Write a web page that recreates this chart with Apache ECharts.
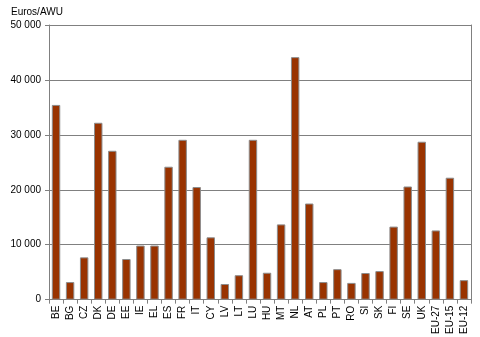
<!DOCTYPE html>
<html><head><meta charset="utf-8">
<script src="https://cdn.jsdelivr.net/npm/echarts@6/dist/echarts.min.js"></script>
<style>html,body{margin:0;padding:0;background:#fff}#c{width:480px;height:337px}</style>
</head><body><div id="c"></div>
<script>
const categories = ['BE','BG','CZ','DK','DE','EE','IE','EL','ES','FR','IT','CY','LV','LT','LU','HU','MT','NL','AT','PL','PT','RO','SI','SK','FI','SE','UK','EU-27','EU-15','EU-12'];
const values = [35450,3200,7700,32200,27100,7400,9850,9850,24200,29100,20500,11350,2850,4450,29100,4900,13700,44150,17500,3200,5550,3050,4850,5200,13300,20600,28750,12600,22200,3550];
const yTicks = [0,10000,20000,30000,40000,50000];
const yTitle = 'Euros/AWU';

const chart = echarts.init(document.getElementById('c'));
const fmt = v => String(v).replace(/\B(?=(\d{3})+(?!\d))/g, ' ');
const font = 'Liberation Sans, Arial, sans-serif';
chart.setOption({
  animation: false,
  grid: {left: 49, right: 9, top: 25, bottom: 36},
  graphic: [{type:'text', left: 11, top: 7, style:{text: yTitle, font: '10px ' + font, fill:'#000'}}],
  xAxis: {
    type: 'category', data: categories,
    axisLine: {lineStyle: {color: '#808080', width: 1}},
    axisTick: {show: true, length: 4, alignWithLabel: false, lineStyle: {color: '#808080'}},
    axisLabel: {rotate: 90, fontSize: 10, fontFamily: font, color: '#000', margin: 6, interval: 0}
  },
  yAxis: [{
    type: 'value', min: yTicks[0], max: yTicks[yTicks.length-1], interval: 10000,
    axisLine: {show: true, lineStyle: {color: '#808080'}},
    axisTick: {show: true, length: 4, lineStyle: {color: '#808080'}},
    axisLabel: {formatter: fmt, fontSize: 10, fontFamily: font, color: '#000', margin: 8},
    splitLine: {lineStyle: {color: '#808080', width: 1}}
  },{
    type: 'value', position: 'right', min: yTicks[0], max: yTicks[yTicks.length-1], interval: 10000,
    axisLine: {show: true, lineStyle: {color: '#808080'}},
    axisTick: {show: false}, axisLabel: {show: false}, splitLine: {show: false}
  }],
  series: [{
    type: 'bar', data: values, barWidth: '60%',
    itemStyle: {color: '#993300', borderColor: '#8c8c8c', borderWidth: 1}
  }]
});
</script></body></html>
